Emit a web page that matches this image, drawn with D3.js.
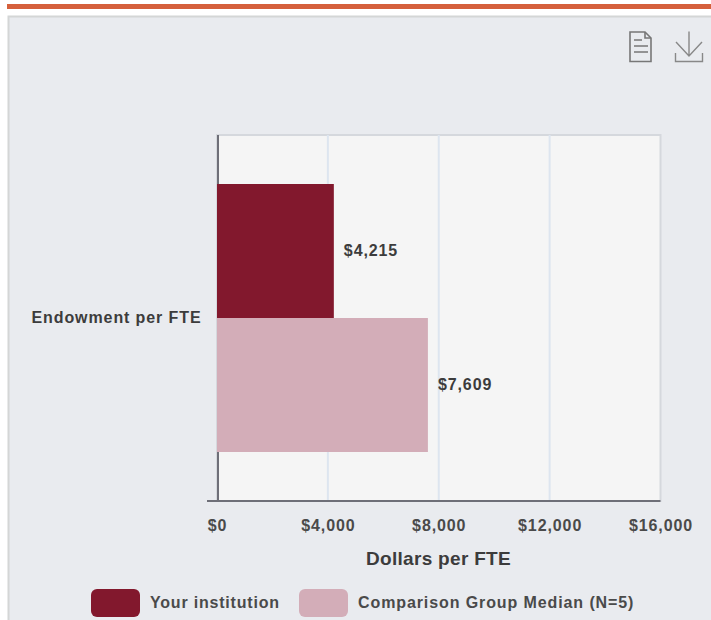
<!DOCTYPE html>
<html><head><meta charset="utf-8">
<script src="https://cdn.jsdelivr.net/npm/d3@7"></script>
<style>html,body{margin:0;padding:0;background:#fff}svg{display:block}text{font-family:"Liberation Sans",Arial,sans-serif}</style>
</head><body><div id="c"></div>
<script>
const category = "Endowment per FTE";
const seriesNames = ["Your institution", "Comparison Group Median (N=5)"];
const seriesValues = [4215, 7609];
const seriesColors = ["#82182d", "#d3adb8"];
const xTicks = [0, 4000, 8000, 12000, 16000];
const axisTitle = "Dollars per FTE";

const svg = d3.select("#c").append("svg").attr("width",711).attr("height",620);
svg.append("rect").attr("x",7).attr("y",4).attr("width",704).attr("height",5).attr("fill","#d5603c");
svg.append("rect").attr("x",8.5).attr("y",16.5).attr("width",710).attr("height",610).attr("fill","#e9ebef").attr("stroke","#d4d6d6").attr("stroke-width",2);

const L=217,R=660.5,T=135,B=501;
const x=d3.scaleLinear().domain([0,16000]).range([L,R]);
const y0=d3.scaleBand().domain([category]).range([T,B]);
const y1=d3.scaleBand().domain(seriesNames).range([y0(category)+49,y0(category)+y0.bandwidth()-49]);
const fmt=d=>"$"+d3.format(",")(d);
const textFill="#3c3c3c", ls="0.9px";

svg.append("rect").attr("x",L).attr("y",T).attr("width",R-L).attr("height",B-T).attr("fill","#f5f5f5").attr("stroke","#d5d8dd").attr("stroke-width",2);
svg.append("g").selectAll("line").data(xTicks.slice(1,-1)).join("line")
  .attr("x1",d=>x(d)).attr("x2",d=>x(d)).attr("y1",T).attr("y2",B).attr("stroke","#dde5ef").attr("stroke-width",2);
svg.append("line").attr("x1",L+1).attr("x2",L+1).attr("y1",T).attr("y2",B).attr("stroke","#6e6f78").attr("stroke-width",2);

svg.append("g").selectAll("rect").data(seriesValues).join("rect")
  .attr("x",x(0)).attr("y",(d,i)=>y1(seriesNames[i])).attr("width",d=>x(d)-x(0)).attr("height",y1.bandwidth()).attr("fill",(d,i)=>seriesColors[i]);
svg.append("g").selectAll("text").data(seriesValues).join("text")
  .attr("x",d=>x(d)+10).attr("y",(d,i)=>y1(seriesNames[i])+y1.bandwidth()/2-1).attr("dy","0.35em")
  .attr("font-size",16).attr("font-weight","bold").style("letter-spacing",ls).attr("fill",textFill).text(fmt);

const ax=svg.append("g").attr("transform",`translate(0,${B})`)
  .call(d3.axisBottom(x).tickValues(xTicks).tickFormat(fmt).tickSize(0).tickPadding(19));
ax.select(".domain").remove();
ax.selectAll("text").attr("font-size",16).attr("font-weight","bold").attr("fill","#4a4a4a").style("letter-spacing",ls).style("font-family",'"Liberation Sans"');
svg.append("line").attr("x1",207).attr("x2",R).attr("y1",B).attr("y2",B).attr("stroke","#6e6f78").attr("stroke-width",2);

svg.append("text").attr("x",201.5).attr("y",y0(category)+y0.bandwidth()/2-1).attr("dy","0.35em").attr("text-anchor","end")
  .attr("font-size",16).attr("font-weight","bold").style("letter-spacing",ls).attr("fill",textFill).text(category);
svg.append("text").attr("x",438.5).attr("y",565).attr("text-anchor","middle").attr("font-size",19).attr("font-weight","bold").style("letter-spacing","0.3px").attr("fill",textFill).text(axisTitle);

const legX=[91,299], legT=[150,358];
seriesNames.forEach((n,i)=>{
  svg.append("rect").attr("x",legX[i]).attr("y",589).attr("width",49).attr("height",28).attr("rx",6).attr("fill",seriesColors[i]);
  svg.append("text").attr("x",legT[i]).attr("y",602.5).attr("dy","0.35em").attr("font-size",16).attr("font-weight","bold").style("letter-spacing",i===0?"0.8px":ls).attr("fill","#4a4a4a").text(n);
});

const ic=svg.append("g").attr("fill","none").attr("stroke","#777").attr("stroke-width",1.6);
ic.append("path").attr("d","M630 32H645L651 38V61.500H630Z");
ic.append("path").attr("d","M645 32V38H651");
ic.append("path").attr("d","M634 40H642M634 46H648M634 52H648");
const ic2=svg.append("g").attr("fill","none").attr("stroke","#888").attr("stroke-width",1.4);
ic2.append("path").attr("d","M689 31.500V56M676 42L689 56L702 42M675.500 53V61.500H702.500V53");
</script></body></html>
